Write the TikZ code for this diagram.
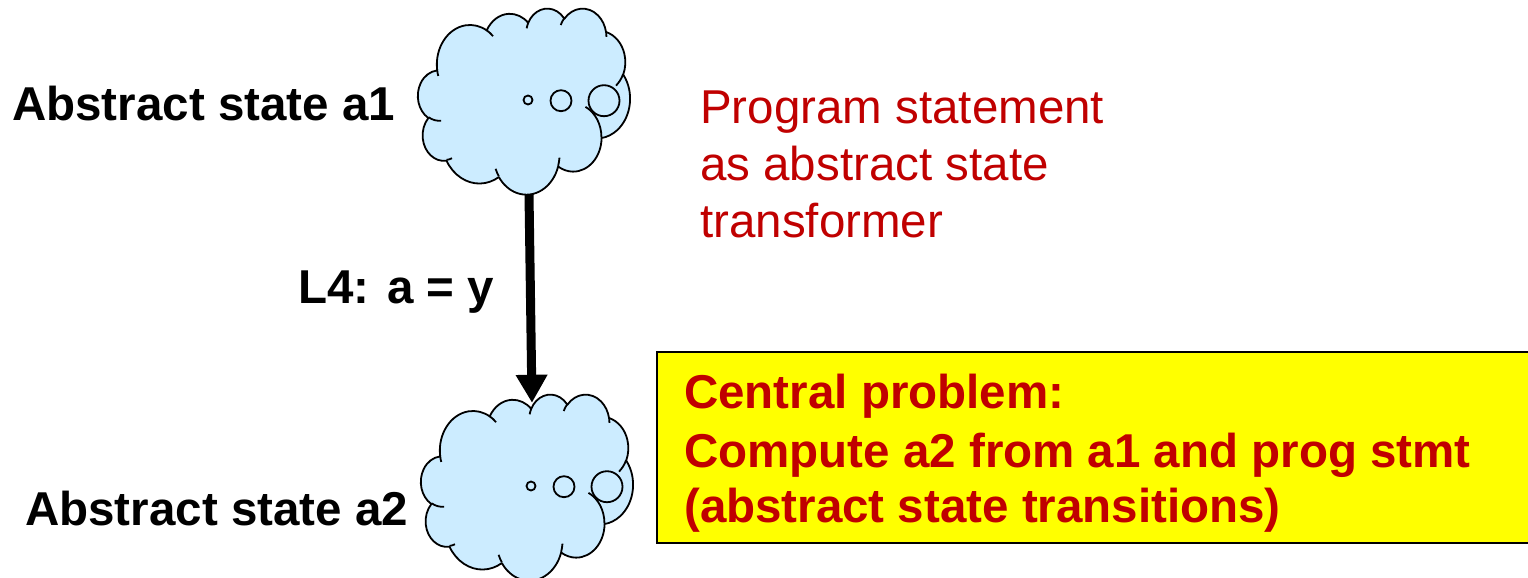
\documentclass[tikz,border=0pt]{standalone}
\usepackage{fontspec}
\setmainfont{Liberation Sans}
\usetikzlibrary{arrows.meta}
\definecolor{cloudblue}{HTML}{CCECFF}
\definecolor{darkred}{HTML}{C00000}
\definecolor{boxyellow}{HTML}{FFFF00}
\tikzset{
  declare function={ooang(\w,\h,\a)=atan2(\w*sin(\a),\h*cos(\a));
    oodelta(\w,\h,\a,\s)=mod(ooang(\w,\h,\a+\s)-ooang(\w,\h,\a)+720,360);},
  cloudline/.style={draw=black, fill=cloudblue, line width=1.8pt, line join=round},
  cloudtick/.style={line width=1.8pt},
  bubble/.style={line width=1.8pt},
  cloudframe/.style={inner sep=0pt, minimum width=212pt, minimum height=186pt},
  big/.style={font=\fontsize{47.5}{57}\selectfont, inner sep=0pt, anchor=base west},
  blabel/.style={big, font=\fontsize{47.5}{57}\selectfont\bfseries},
  redtext/.style={big, text=darkred},
  probtext/.style={blabel, text=darkred},
  transition/.style={line width=9pt, -{Triangle[width=30pt,length=28pt]}},
}
\newcommand{\ooarc}[4]{arc[x radius=#1, y radius=#2, start angle={ooang(#1,#2,#3)}, delta angle={oodelta(#1,#2,#3,#4)}]}
% cloud drawn in a frame whose top-left corner is #1 (pixels)
\newcommand{\cloudpic}[1]{%
  \begin{scope}[shift={(#1)}, x=0.49074pt, y=-0.43056pt]
    \path[cloudline] (39.00,143.70)
      \ooarc{67.53}{91.90}{-190.4875}{123.7805}
      \ooarc{53.33}{72.67}{-144.1024}{89.9452}
      \ooarc{43.65}{59.45}{-145.8079}{99.7230}
      \ooarc{48.57}{65.95}{-130.9861}{117.2417}
      \ooarc{53.33}{72.73}{-78.7089}{109.0269}
      \ooarc{67.75}{92.20}{-46.2673}{130.2690}
      \ooarc{57.85}{78.67}{0.6250}{114.0333}
      \ooarc{67.52}{92.15}{22.4516}{115.1726}
      \ooarc{77.20}{105.43}{66.2426}{75.7110}
      \ooarc{43.60}{59.18}{-274.9421}{146.7356}
      \ooarc{43.45}{59.45}{-246.8285}{152.5189}
      -- cycle;
    \draw[cloudtick] (46.93,261.77) \ooarc{43.45}{59.45}{86.7420}{26.4295};
    \draw[cloudtick] (69.28,348.99) \ooarc{43.60}{59.18}{73.6105}{11.4475};
    \draw[cloudtick] (164.78,390.90) \ooarc{67.52}{92.15}{137.6242}{14.0811};
    \draw[cloudtick] (288.27,347.51) \ooarc{67.52}{92.15}{6.4533}{15.9984};
    \draw[cloudtick] (341.29,229.54) \ooarc{57.85}{78.67}{-70.2924}{70.9174};
    \draw[cloudtick] (417.98,153.54) \ooarc{53.33}{72.73}{30.3180}{27.7515};
    \draw[cloudtick] (383.24,54.26) \ooarc{48.57}{65.95}{-13.7443}{14.8589};
    \draw[cloudtick] (290.78,39.52) \ooarc{48.57}{65.95}{-149.1815}{18.1954};
    \draw[cloudtick] (221.41,47.20) \ooarc{43.65}{59.45}{-163.4943}{17.6864};
    \draw[cloudtick] (140.00,51.92) \ooarc{67.53}{91.90}{-66.7070}{12.3194};
    \draw[cloudtick] (41.27,157.89) \ooarc{67.53}{91.90}{157.6544}{11.8582};
  \end{scope}
  \begin{scope}[shift={(#1)}]
    \draw[bubble] (110,92) circle (4.5);
    \draw[bubble] (143,92.7) circle (10.5);
    \draw[bubble] (186,92.7) circle (15.5);
  \end{scope}}
\begin{document}
\begin{tikzpicture}[x=1pt,y=-1pt]
\useasboundingbox[fill=white] (0,0) rectangle (1528,578);
% clouds
\cloudpic{418,8}
\node[cloudframe] (c1) at (524,101) {};
\cloudpic{421,394}
\node[cloudframe] (c2) at (527,487) {};
% transition arrow
\draw[transition] ([xshift=5pt]c1.south) -- ([xshift=5pt,yshift=-9pt]c2.north);
% labels
\node[blabel] (la1) at (12,120) {Abstract state a1};
\node[blabel] (la2) at (25,525) {Abstract state a2};
\node[blabel] (lstmt) at (298,303) {L4: a = y};
\node[redtext] (r1) at (700,123) {Program statement};
\node[redtext] (r2) at (700,180) {as abstract state};
\node[redtext] (r3) at (700,237) {transformer};
% central problem box
\fill[boxyellow] (657,352) rectangle (1528,543);
\draw[line width=1.5pt] (1528,352) -- (657,352) -- (657,543) -- (1528,543);
\node[probtext] (p1) at (684,408) {Central problem:};
\node[probtext] (p2) at (684,467) {Compute a2 from a1 and prog stmt};
\node[probtext] (p3) at (684,522) {(abstract state transitions)};
\end{tikzpicture}
\end{document}
